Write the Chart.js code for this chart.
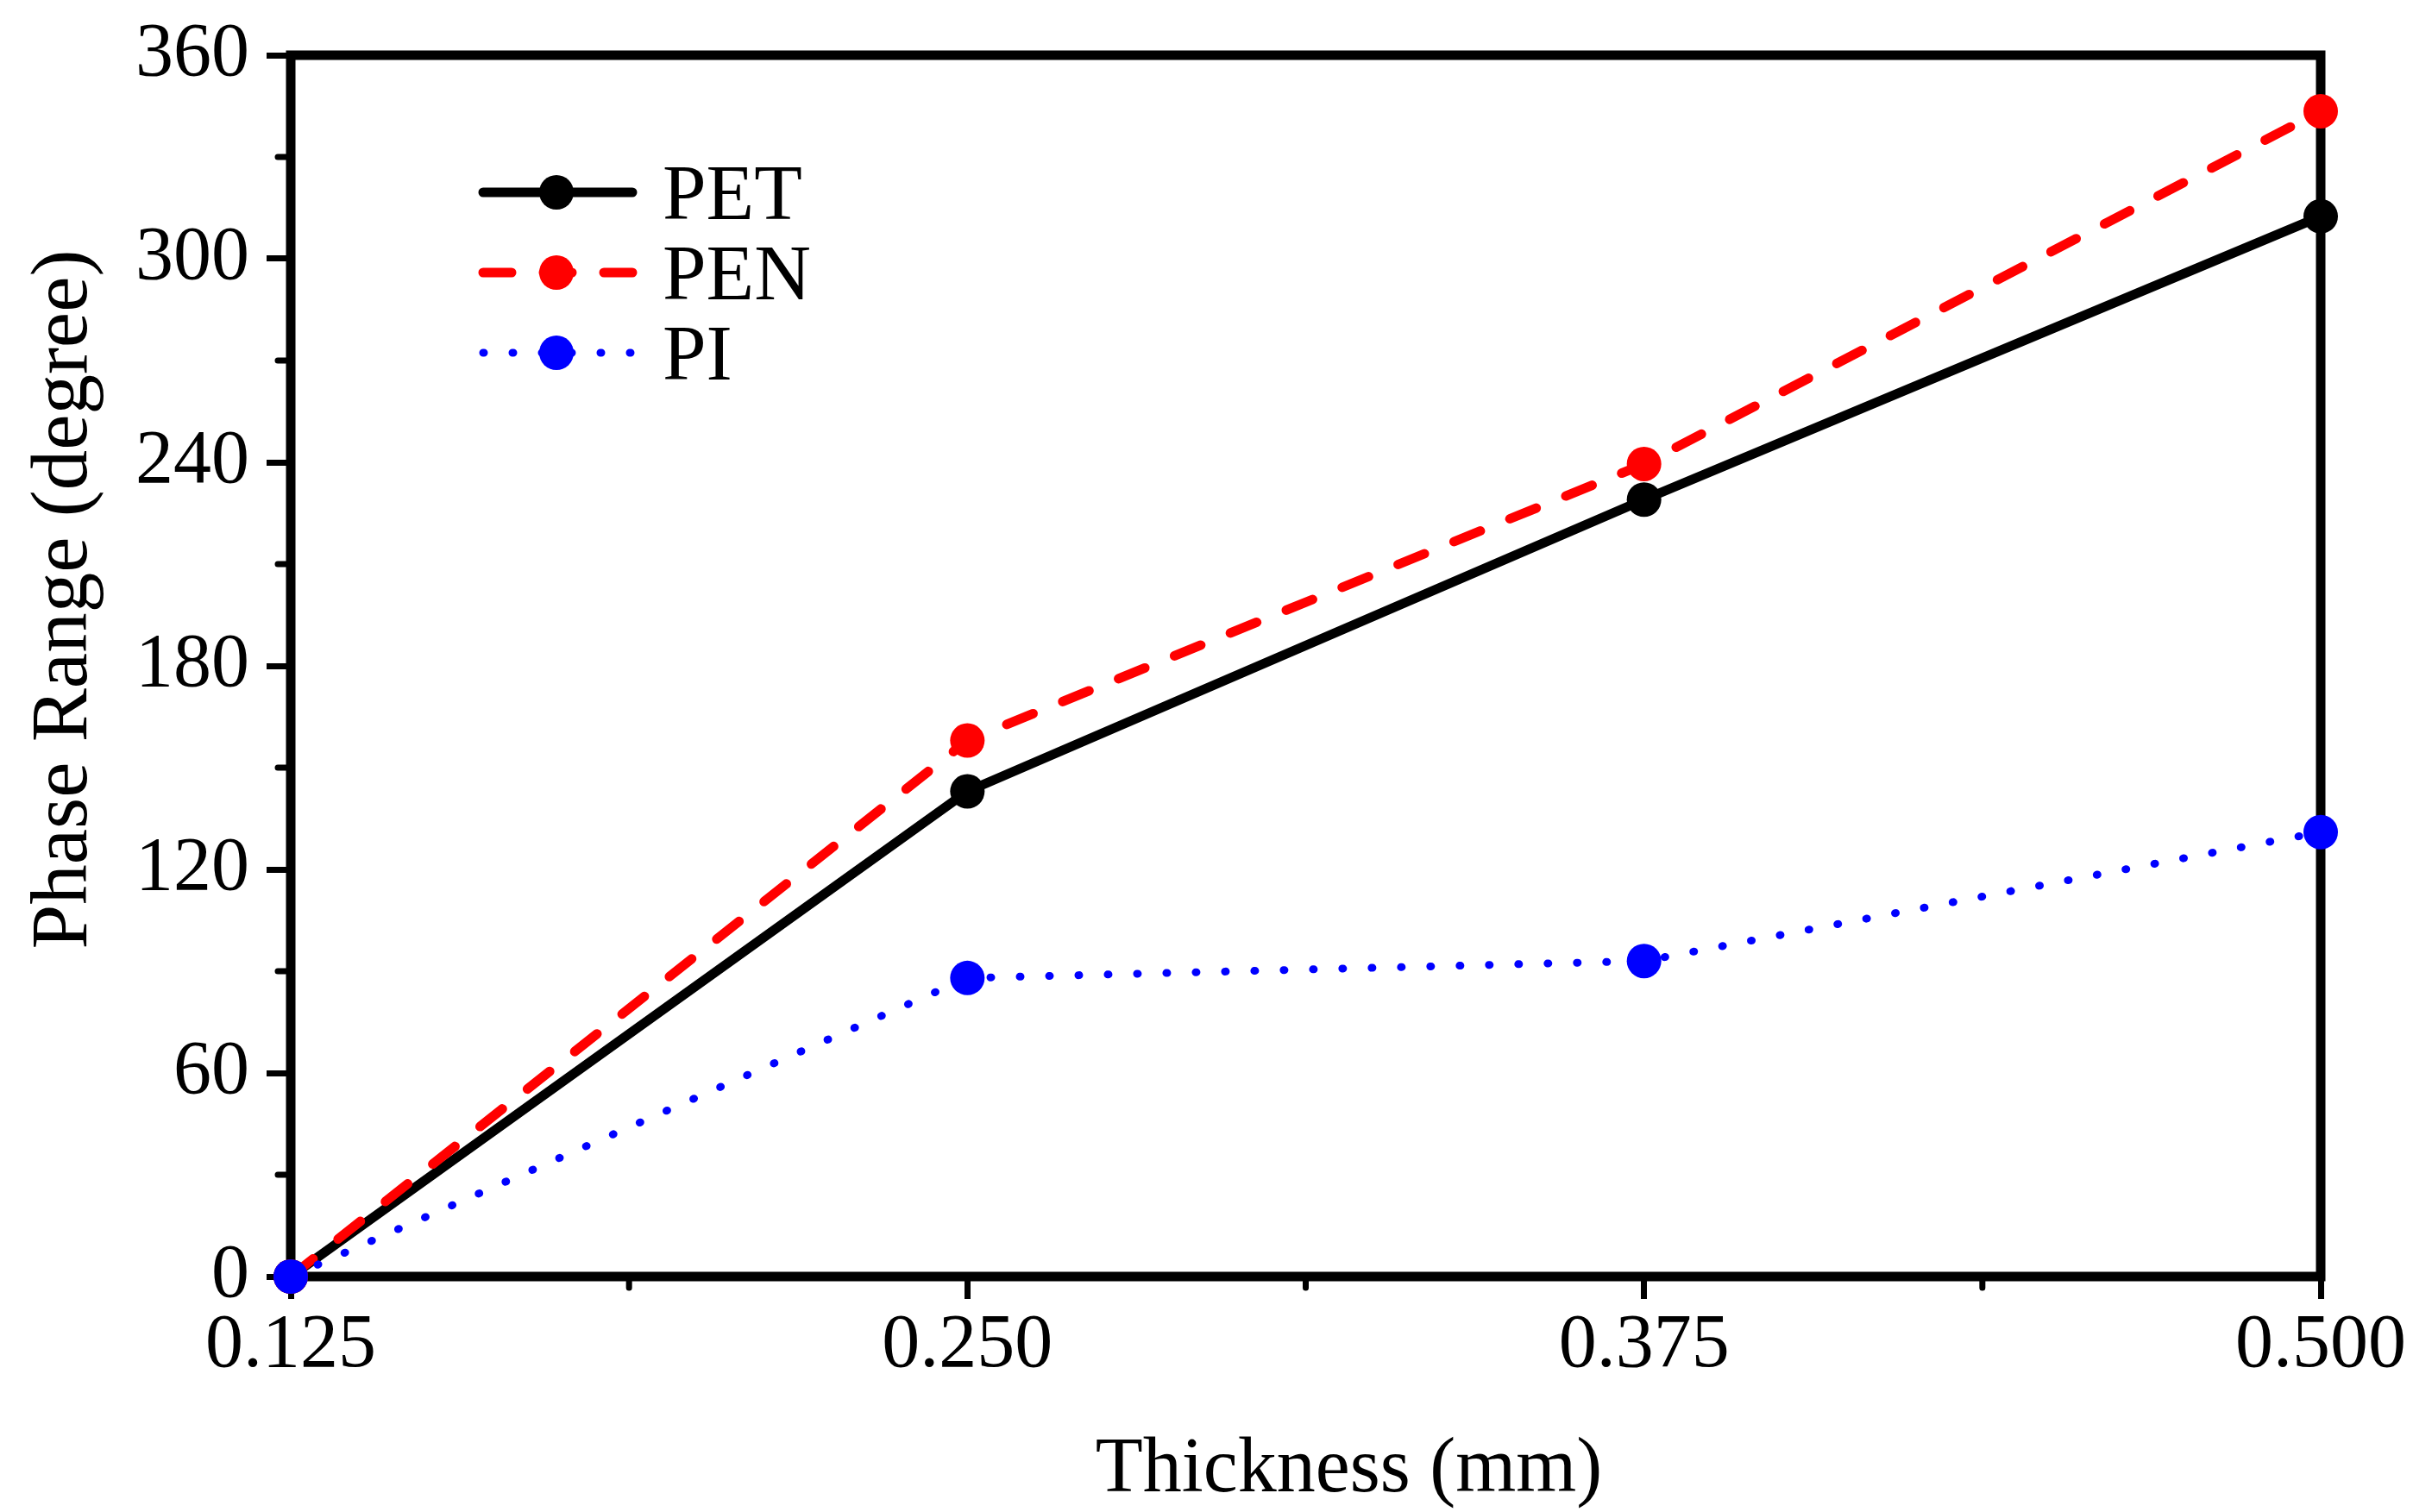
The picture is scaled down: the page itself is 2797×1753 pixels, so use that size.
<!DOCTYPE html>
<html>
<head>
<meta charset="utf-8">
<script src="https://cdn.jsdelivr.net/npm/chart.js@4.4.1/dist/chart.umd.min.js"></script>
<style>
  html, body { margin: 0; padding: 0; background: #fff; }
  #wrap { width: 2797px; height: 1753px; position: relative; }
</style>
</head>
<body>
<div id="wrap"><canvas id="phaseChart"></canvas></div>
<script>
// --- data ---
const thickness = [0.125, 0.250, 0.375, 0.500];
const petPhase = [0, 143, 229, 312.5];
const penPhase = [0, 158, 239.5, 343.5];
const piPhase = [0, 88, 93, 131];
const xMajorTicks = [0.125, 0.250, 0.375, 0.500];
const xMinorTicks = [0.1875, 0.3125, 0.4375];
const yMajorTicks = [0, 60, 120, 180, 240, 300, 360];
const yMinorTicks = [30, 90, 150, 210, 270, 330];

const serif = '"Liberation Serif", "Times New Roman", serif';

function toPoints(ys) {
    return thickness.map((x, i) => ({ x: x, y: ys[i] }));
}

// frame, minor ticks, axis titles and the in-plot legend
const framePlugin = {
    id: 'frame',
    beforeDatasetsDraw(chart) {
        const ctx = chart.ctx;
        const a = chart.chartArea;
        const xs = chart.scales.x, ys = chart.scales.y;
        ctx.save();
        ctx.strokeStyle = '#000';
        ctx.lineWidth = 7;
        ctx.lineCap = 'round';
        xMinorTicks.forEach(v => {
            const px = xs.getPixelForValue(v);
            ctx.beginPath();
            ctx.moveTo(px, a.bottom);
            ctx.lineTo(px, a.bottom + 13);
            ctx.stroke();
        });
        yMinorTicks.forEach(v => {
            const py = ys.getPixelForValue(v);
            ctx.beginPath();
            ctx.moveTo(a.left, py);
            ctx.lineTo(a.left - 15, py);
            ctx.stroke();
        });
        ctx.lineWidth = 11;
        ctx.lineJoin = 'miter';
        ctx.lineCap = 'butt';
        ctx.strokeRect(a.left, a.top, a.right - a.left, a.bottom - a.top);
        ctx.restore();
    },
    afterDraw(chart) {
        const ctx = chart.ctx;
        const a = chart.chartArea;
        ctx.save();
        ctx.fillStyle = '#000';

        // axis titles
        ctx.font = '90px ' + serif;
        ctx.textAlign = 'center';
        ctx.textBaseline = 'alphabetic';
        ctx.fillText('Thickness (mm)', a.left + (a.right - a.left) * 0.5 + 50, 1729);
        ctx.translate(100, 695);
        ctx.rotate(-Math.PI / 2);
        ctx.font = '93px ' + serif;
        ctx.fillText('Phase Range (degree)', 0, 0);
        ctx.setTransform(1, 0, 0, 1, 0, 0);

        // legend
        const lx0 = 560, lx1 = 733, mx = 645, tx = 768;
        chart.data.datasets.forEach((ds, i) => {
            const y = 223 + i * 93;
            ctx.beginPath();
            ctx.strokeStyle = ds.borderColor;
            ctx.lineWidth = ds.borderWidth;
            ctx.lineCap = 'round';
            ctx.setLineDash(ds.borderDash || []);
            ctx.moveTo(lx0, y);
            ctx.lineTo(lx1, y);
            ctx.stroke();
            ctx.setLineDash([]);
            ctx.beginPath();
            ctx.fillStyle = ds.pointBackgroundColor;
            ctx.arc(mx, y, ds.pointRadius, 0, Math.PI * 2);
            ctx.fill();
            ctx.fillStyle = '#000';
            ctx.font = '91px ' + serif;
            ctx.textAlign = 'left';
            ctx.fillText(ds.label, tx, y + 31);
        });
        ctx.restore();
    }
};

const ctxPhase = document.getElementById('phaseChart').getContext('2d');

new Chart(ctxPhase, {
    type: 'line',
    data: {
        datasets: [
            {
                label: 'PET',
                data: toPoints(petPhase),
                borderColor: '#000000',
                pointBackgroundColor: '#000000',
                pointBorderWidth: 0,
                borderWidth: 11,
                pointRadius: 20,
                order: 2,
                clip: false
            },
            {
                label: 'PEN',
                data: toPoints(penPhase),
                borderColor: '#ff0000',
                pointBackgroundColor: '#ff0000',
                pointBorderWidth: 0,
                borderWidth: 11,
                borderDash: [33, 37],
                borderCapStyle: 'round',
                pointRadius: 20,
                order: 1,
                clip: false
            },
            {
                label: 'PI',
                data: toPoints(piPhase),
                borderColor: '#0000ff',
                pointBackgroundColor: '#0000ff',
                pointBorderWidth: 0,
                borderWidth: 9,
                borderDash: [1, 33],
                borderCapStyle: 'round',
                pointRadius: 20,
                order: 0,
                clip: false
            }
        ]
    },
    options: {
        responsive: true,
        maintainAspectRatio: false,
        devicePixelRatio: 1,
        animation: false,
        layout: { padding: { top: 64, right: 107, left: 0, bottom: 0 } },
        plugins: {
            legend: { display: false },
            tooltip: { enabled: false }
        },
        scales: {
            x: {
                type: 'linear',
                min: 0.125,
                max: 0.5,
                afterFit: s => { s.height = 273; },
                afterBuildTicks: s => { s.ticks = xMajorTicks.map(v => ({ value: v })); },
                ticks: {
                    color: '#000',
                    font: { family: serif, size: 88 },
                    padding: 2,
                    maxRotation: 0,
                    autoSkip: false,
                    callback: v => Number(v).toFixed(3)
                },
                grid: {
                    drawOnChartArea: false,
                    tickLength: 26,
                    tickWidth: 7,
                    tickColor: '#000'
                },
                border: { display: false }
            },
            y: {
                min: 0,
                max: 360,
                afterFit: s => { s.width = 337; },
                afterBuildTicks: s => { s.ticks = yMajorTicks.map(v => ({ value: v })); },
                ticks: {
                    color: '#000',
                    font: { family: serif, size: 88, lineHeight: 0.8 },
                    padding: 20
                },
                grid: {
                    drawOnChartArea: false,
                    tickLength: 28,
                    tickWidth: 7,
                    tickColor: '#000'
                },
                border: { display: false }
            }
        }
    },
    plugins: [framePlugin]
});
</script>
</body>
</html>
